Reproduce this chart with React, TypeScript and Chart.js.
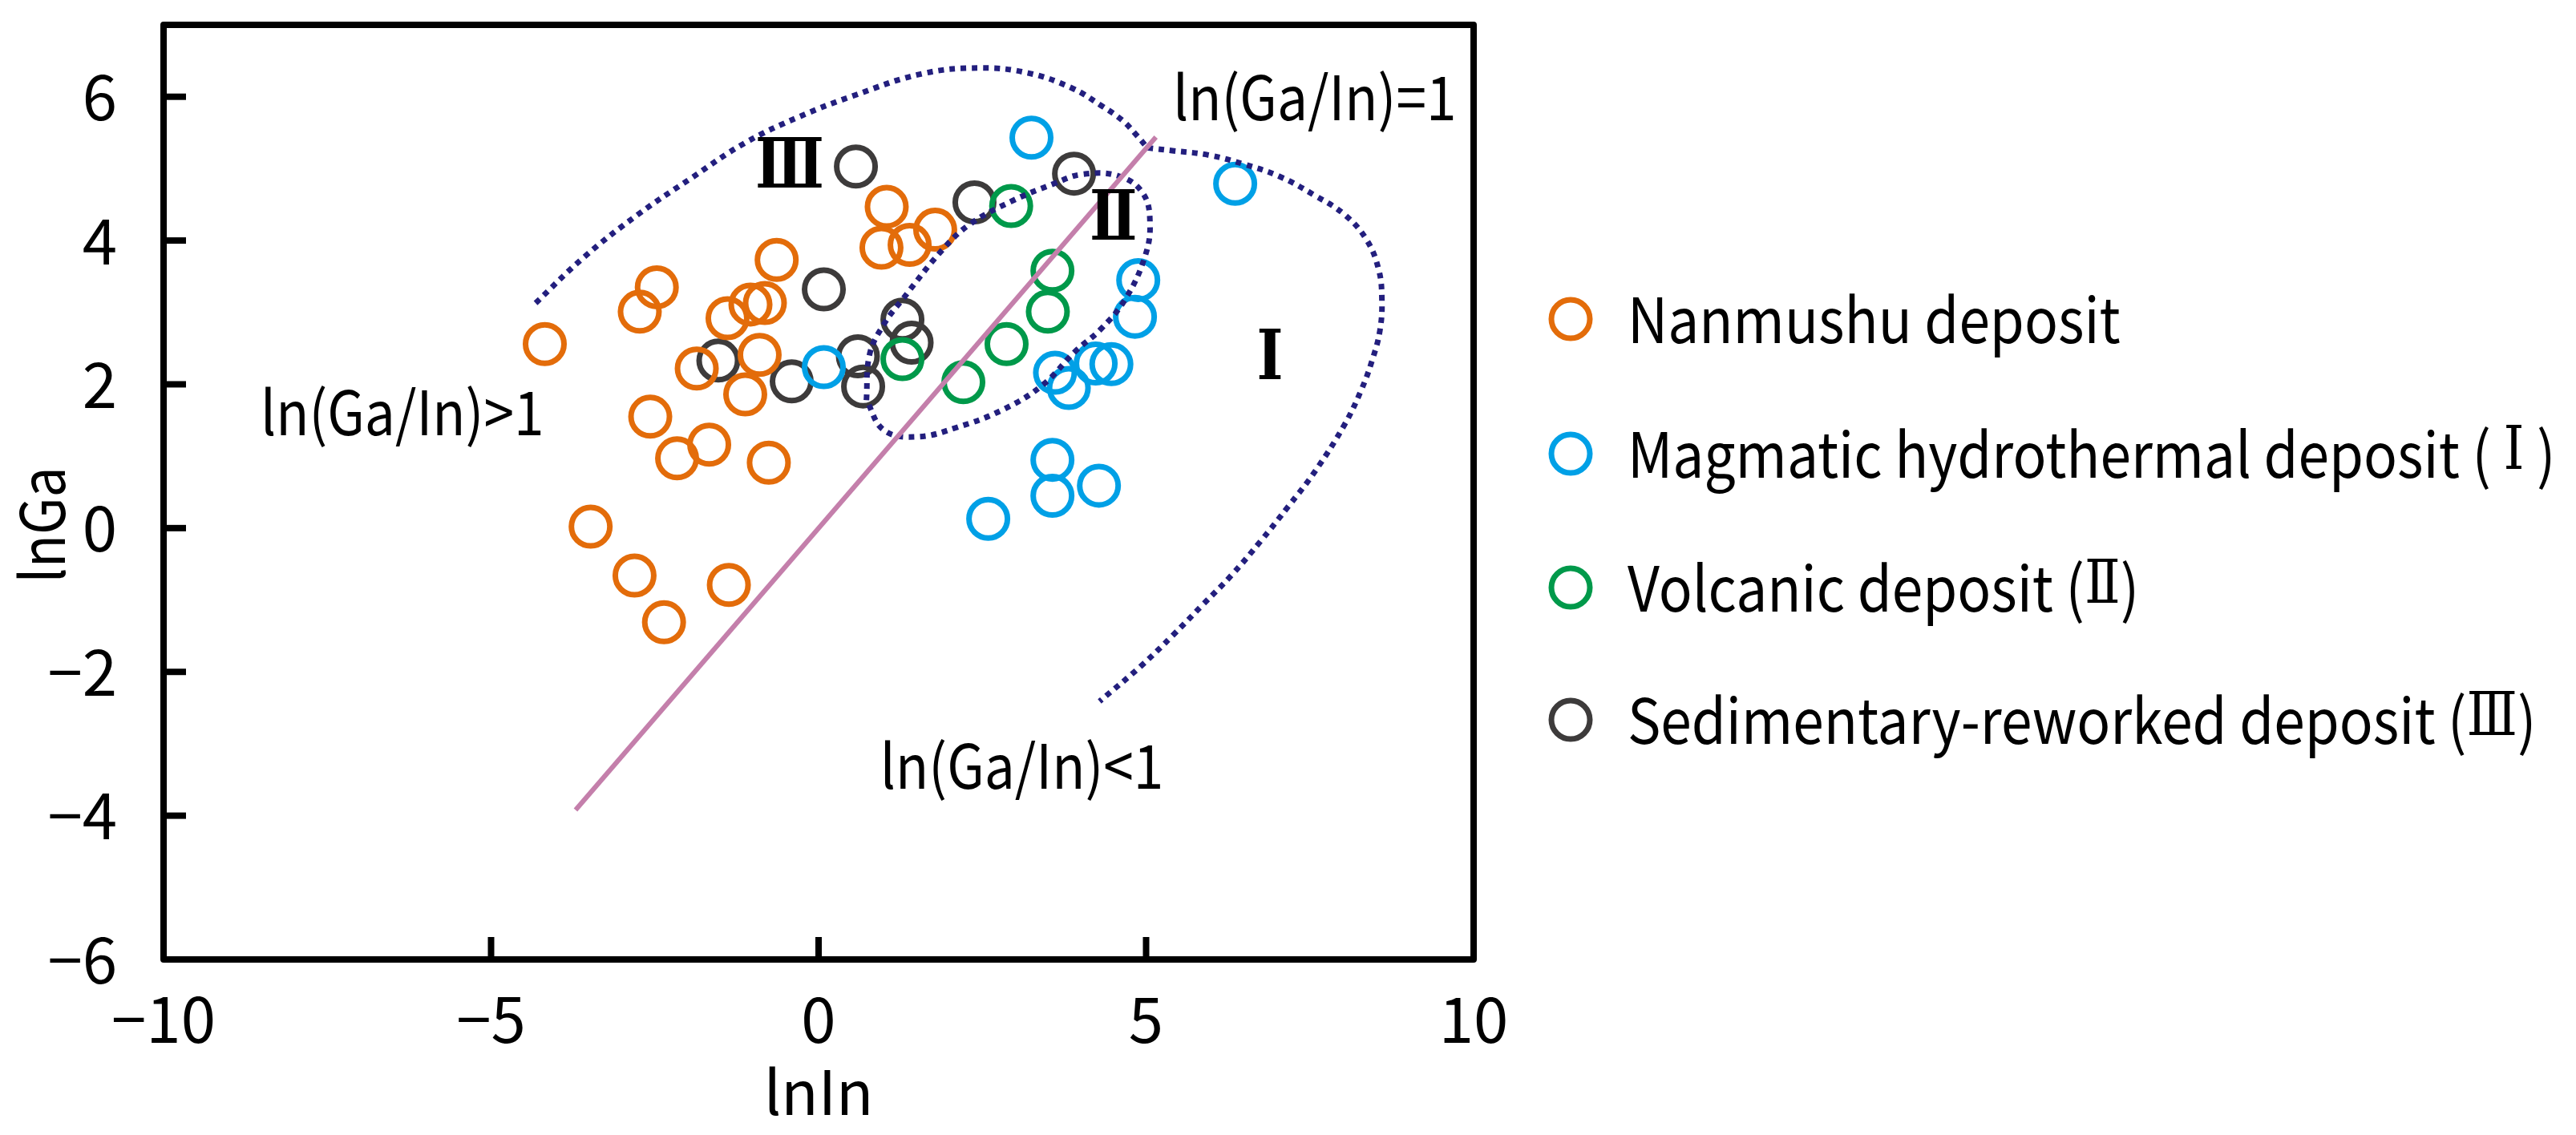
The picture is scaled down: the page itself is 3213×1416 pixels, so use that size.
import React, { useEffect, useRef } from 'react';
import { Chart, registerables } from 'chart.js';

Chart.register(...registerables);

// ---------- data ----------
const nanmushuX = [-4.18, -2.73, -2.47, -0.64, -1.39, -1.04, -0.82, -1.86, -0.9, -1.12, -2.57, -2.16, -1.67, -0.76, -3.48, 1.04, 0.96, 1.39, 1.78, -2.81, -2.36, -1.37];
const nanmushuY = [2.56, 3.01, 3.35, 3.73, 2.92, 3.11, 3.13, 2.22, 2.41, 1.86, 1.55, 0.97, 1.16, 0.91, 0.02, 4.47, 3.9, 3.94, 4.15, -0.66, -1.31, -0.79];

const magmaticX = [0.08, 3.25, 6.36, 4.88, 4.83, 3.61, 3.82, 4.23, 4.47, 3.57, 3.57, 4.28, 2.59];
const magmaticY = [2.24, 5.43, 4.79, 3.45, 2.94, 2.16, 1.95, 2.29, 2.28, 0.95, 0.45, 0.59, 0.13];

const volcanicX = [1.28, 2.21, 2.94, 3.57, 3.5, 2.87];
const volcanicY = [2.35, 2.03, 4.48, 3.58, 3.01, 2.56];

const sedimentaryX = [0.57, 2.38, 0.08, 1.28, 1.42, -1.53, -0.41, 0.6, 0.68, 3.9];
const sedimentaryY = [5.03, 4.53, 3.32, 2.9, 2.58, 2.33, 2.04, 2.39, 1.97, 4.93];

// ln(Ga/In)=1 line
const ratioLineX = [-3.71, 5.15];
const ratioLineY = [-3.92, 5.44];

// outer dotted boundary (III region arc, then I region lobe)
const outerArcX = [-4.32, -3.58, -2.76, -1.94, -1.12, -0.3, 0.52, 1.58, 2.47, 3.2, 3.87, 4.31, 4.64, 4.86, 5.02];
const outerArcY = [3.13, 3.77, 4.36, 4.87, 5.36, 5.72, 6.01, 6.32, 6.4, 6.33, 6.12, 5.88, 5.67, 5.46, 5.29];
const rightLobeX = [5.02, 5.4, 5.95, 6.5, 7.04, 7.59, 8.03, 8.36, 8.55, 8.6, 8.57, 8.45, 8.28, 8.03, 7.58, 7.17, 6.75, 6.31, 5.86, 5.41, 4.92, 4.29];
const rightLobeY = [5.29, 5.25, 5.19, 5.06, 4.89, 4.62, 4.36, 4.02, 3.6, 3.18, 2.75, 2.33, 1.91, 1.44, 0.79, 0.3, -0.18, -0.65, -1.07, -1.49, -1.92, -2.41];

// inner dotted loop (II region)
const innerLoopX = [0.73, 0.78, 1.0, 1.28, 1.88, 2.3, 2.93, 3.59, 4.02, 4.57, 4.95, 5.06, 4.98, 4.68, 4.3, 3.92, 3.42, 2.82, 2.11, 1.5, 1.0, 0.73];
const innerLoopY = [1.78, 2.42, 2.84, 3.18, 3.86, 4.22, 4.54, 4.79, 4.92, 4.9, 4.66, 4.24, 3.77, 3.18, 2.76, 2.46, 1.99, 1.65, 1.4, 1.27, 1.36, 1.78];

const xTickValues = [-10, -5, 0, 5, 10];
const yTickValues = [-6, -4, -2, 0, 2, 4, 6];

const seriesLabels = [
  'Nanmushu deposit',
  'Magmatic hydrothermal deposit ( Ⅰ )',
  'Volcanic deposit (Ⅱ)',
  'Sedimentary-reworked deposit (Ⅲ)',
];
const seriesColors = ['#e36c0a', '#00a0e6', '#00994a', '#3d3b3b'];

const regionText = ['Ⅲ', 'Ⅱ', 'Ⅰ'];
const regionX = [-0.44, 4.5, 6.89];
const regionY = [4.99, 4.26, 2.32];

const ratioText = ['ln(Ga/In)=1', 'ln(Ga/In)>1', 'ln(Ga/In)<1'];
const ratioTextX = [5.41, -8.52, 0.94];
const ratioTextY = [5.67, 1.29, -3.62];

// ---------- helpers ----------
const FONT = "'Noto Sans CJK KR', 'Noto Sans', sans-serif";
const SERIF = "'DejaVu Serif', 'Liberation Serif', serif";
const SQUEEZE = 0.89;
const zip = (xs: number[], ys: number[]) => xs.map((x, i) => ({ x, y: ys[i] }));
const fmt = (v: number) => (v < 0 ? '\u2212' + Math.abs(v) : String(v));

const scatterSet = (i: number, xs: number[], ys: number[]) => ({
  label: seriesLabels[i],
  data: zip(xs, ys),
  showLine: false,
  pointStyle: 'circle',
  pointRadius: 24,
  pointHoverRadius: 24,
  pointBorderWidth: 7,
  borderColor: seriesColors[i],
  pointBorderColor: seriesColors[i],
  backgroundColor: 'rgba(0,0,0,0)',
  pointBackgroundColor: 'rgba(0,0,0,0)',
  order: 2,
});

const dottedSet = (xs: number[], ys: number[]) => ({
  label: '',
  data: zip(xs, ys),
  showLine: true,
  pointRadius: 0,
  borderColor: '#231f7e',
  borderWidth: 7,
  borderDash: [7, 7],
  borderCapStyle: 'butt',
  tension: 0.4,
  fill: false,
  order: 1,
});

// draw text with runs: roman numerals in serif, rest in sans, horizontally condensed
function drawRuns(ctx: any, text: string, x: number, y: number, size: number, numeralSize: number) {
  ctx.save();
  ctx.translate(x, y);
  ctx.scale(SQUEEZE, 1);
  ctx.textAlign = 'left';
  ctx.textBaseline = 'middle';
  let cx = 0;
  const parts = text.split(/([ⅠⅡⅢ])/).filter((p) => p.length > 0);
  for (const p of parts) {
    const isNum = /[ⅠⅡⅢ]/.test(p);
    ctx.font = isNum ? `${numeralSize}px ${SERIF}` : `${size}px ${FONT}`;
    ctx.fillText(p, cx, 0);
    cx += ctx.measureText(p).width;
  }
  ctx.restore();
}

const overlayPlugin = {
  id: 'overlay',
  afterDatasetsDraw(chart: any) {
    const { ctx, scales } = chart;
    const xs = scales.x;
    const ys = scales.y;
    ctx.save();
    ctx.fillStyle = '#000';
    // region numerals
    ctx.font = `bold 86px ${SERIF}`;
    ctx.textAlign = 'center';
    ctx.textBaseline = 'middle';
    regionText.forEach((t, i) => {
      ctx.save();
      ctx.translate(xs.getPixelForValue(regionX[i]), ys.getPixelForValue(regionY[i]));
      ctx.scale(0.82, 1);
      ctx.fillText(t, 0, 0);
      ctx.restore();
    });
    // ratio labels
    ctx.font = `76px ${FONT}`;
    ctx.textAlign = 'left';
    ctx.textBaseline = 'alphabetic';
    ratioText.forEach((t, i) => {
      ctx.save();
      ctx.translate(xs.getPixelForValue(ratioTextX[i]), ys.getPixelForValue(ratioTextY[i]));
      ctx.scale(SQUEEZE, 1);
      ctx.fillText(t, 0, 0);
      ctx.restore();
    });
    ctx.restore();
  },
  afterDraw(chart: any) {
    const { ctx, chartArea: ca, scales } = chart;
    const xs = scales.x;
    const ys = scales.y;
    ctx.save();
    // inward ticks
    ctx.strokeStyle = '#000';
    ctx.lineWidth = 8;
    ctx.lineCap = 'butt';
    const tl = 28;
    xs.ticks.forEach((t: any) => {
      if (t.value <= xs.min || t.value >= xs.max) return;
      const px = xs.getPixelForValue(t.value);
      ctx.beginPath();
      ctx.moveTo(px, ca.bottom);
      ctx.lineTo(px, ca.bottom - tl);
      ctx.stroke();
    });
    ys.ticks.forEach((t: any) => {
      if (t.value <= ys.min || t.value >= ys.max) return;
      const py = ys.getPixelForValue(t.value);
      ctx.beginPath();
      ctx.moveTo(ca.left, py);
      ctx.lineTo(ca.left + tl, py);
      ctx.stroke();
    });
    // frame
    ctx.lineJoin = 'round';
    ctx.strokeRect(ca.left, ca.top, ca.right - ca.left, ca.bottom - ca.top);

    // y title
    ctx.fillStyle = '#000';
    ctx.font = `76px ${FONT}`;
    ctx.textAlign = 'center';
    ctx.textBaseline = 'middle';
    ctx.save();
    ctx.translate(52, 655);
    ctx.rotate(-Math.PI / 2);
    ctx.scale(SQUEEZE, 1);
    ctx.fillText('lnGa', 0, 0);
    ctx.restore();

    // legend
    const rows = [398, 566, 733, 898];
    for (let i = 0; i < seriesLabels.length; i++) {
      const ds = chart.data.datasets[i];
      const yy = rows[i];
      ctx.beginPath();
      ctx.lineWidth = 7;
      ctx.strokeStyle = ds.borderColor;
      ctx.arc(1959, yy, 24, 0, Math.PI * 2);
      ctx.stroke();
      ctx.fillStyle = '#000';
      drawRuns(ctx, ds.label, 2030, yy, 78, 74);
    }
    ctx.restore();
  },
};

export default function App() {
  const canvasRef = useRef<HTMLCanvasElement | null>(null);

  useEffect(() => {
    if (!canvasRef.current) return;
    const chart = new Chart(canvasRef.current, {
      type: 'scatter',
      data: {
        datasets: [
          scatterSet(0, nanmushuX, nanmushuY),
          scatterSet(1, magmaticX, magmaticY),
          scatterSet(2, volcanicX, volcanicY),
          scatterSet(3, sedimentaryX, sedimentaryY),
          {
            label: '',
            data: zip(ratioLineX, ratioLineY),
            showLine: true,
            pointRadius: 0,
            borderColor: '#c47fab',
            borderWidth: 6,
            fill: false,
            order: 1,
          } as any,
          dottedSet(outerArcX, outerArcY) as any,
          dottedSet(rightLobeX, rightLobeY) as any,
          dottedSet(innerLoopX, innerLoopY) as any,
        ],
      },
      options: {
        animation: false,
        responsive: true,
        maintainAspectRatio: false,
        devicePixelRatio: 1,
        layout: { padding: { left: 0, top: 22, right: 1375, bottom: 0 } },
        plugins: {
          legend: { display: false },
          tooltip: { enabled: false },
        },
        font: { family: FONT, size: 76 },
        scales: {
          x: {
            type: 'linear',
            min: -10,
            max: 10,
            afterBuildTicks: (s: any) => {
              s.ticks = xTickValues.map((v) => ({ value: v }));
            },
            afterFit: (s: any) => {
              s.height = 219;
              s.paddingLeft = 0;
              s.paddingRight = 0;
            },
            grid: { display: false },
            border: { display: false },
            ticks: {
              padding: 20,
              color: '#000',
              font: { family: FONT, size: 78 },
              maxRotation: 0,
              autoSkip: false,
              callback: (v: any) => fmt(Number(v)),
            },
            title: {
              display: true,
              text: 'lnIn',
              color: '#000',
              padding: { top: 0, bottom: 8 },
              font: { family: FONT, size: 76 },
            },
          },
          y: {
            type: 'linear',
            min: -6,
            max: 7,
            afterBuildTicks: (s: any) => {
              s.ticks = yTickValues.map((v) => ({ value: v }));
            },
            afterFit: (s: any) => {
              s.width = 204;
              s.paddingTop = 0;
              s.paddingBottom = 0;
            },
            grid: { display: false },
            border: { display: false },
            ticks: {
              padding: 50,
              color: '#000',
              font: { family: FONT, size: 78 },
              autoSkip: false,
              callback: (v: any) => fmt(Number(v)),
            },
            title: { display: false },
          },
        },
      } as any,
      plugins: [overlayPlugin],
    });
    return () => chart.destroy();
  }, []);

  return (
    <div
      style={{
        position: 'fixed',
        left: 0,
        top: 0,
        width: '3213px',
        height: '1416px',
        background: '#fff',
      }}
    >
      <canvas ref={canvasRef} />
    </div>
  );
}
